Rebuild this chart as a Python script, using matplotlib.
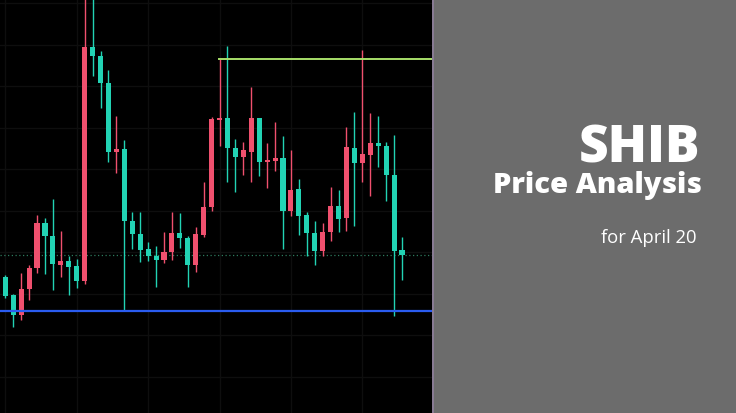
import matplotlib
matplotlib.use("Agg")
import matplotlib.pyplot as plt
from matplotlib.patches import Rectangle
import numpy as np

# OHLC values (arbitrary price units)
opens  = [136.3, 118, 98, 124, 145, 190, 177, 148, 152, 147, 132, 366, 357, 330, 261, 264, 192, 179, 164, 157,
          153, 161, 180, 175, 148, 178, 206, 293, 295, 265, 256, 261, 295, 251, 252, 255, 202, 224, 198, 180,
          162, 181, 207, 195, 265, 250, 258, 270, 267, 238, 163]
highs  = [138, 119, 140, 148, 198, 195, 214, 182, 157, 154, 424, 424, 362, 343, 297, 273, 201, 201, 171, 167,
          181, 201, 200, 177, 186, 231, 296, 354, 367, 274, 271, 326, 295, 270, 291, 277, 263, 234, 201, 192,
          190, 226, 223, 286, 301, 363, 300, 297, 271, 278, 176]
lows   = [115, 86, 93, 113, 140, 139, 123, 136, 118, 125, 129, 337, 305, 251, 240, 102, 164, 151, 152, 126,
          150, 153, 165, 126, 141, 176, 202, 267, 231, 221, 238, 231, 237, 225, 242, 164, 197, 178, 157, 148,
          157, 172, 181, 182, 187, 231, 217, 246, 212, 97, 133]
closes = [117.3, 98, 124, 145, 190, 177, 149, 152, 146, 132, 366.3, 357, 330, 261, 264, 192, 179, 163, 157, 153,
          161, 180, 175, 148, 179, 206, 294, 295, 265, 256, 263, 295, 251, 253, 255, 202, 223, 197, 180, 162,
          181, 207, 194, 266, 250, 259, 270, 267, 238, 162, 158]

resistance = 354
support = 102
current = 158.5
resistance_start = 27

title = "SHIB"
subtitle = "Price Analysis"
date_text = "for April 20"

W, H = 736, 414
fig = plt.figure(figsize=(W / 100, H / 100), dpi=100)
fig.patch.set_facecolor("#6c6c6c")

ax = fig.add_axes([0, 0, 432 / W, 1])
ax.set_facecolor("#000000")
for s in ax.spines.values():
    s.set_visible(False)
ax.set_xticks([])
ax.set_yticks([])

step = 7.934
x0 = 5.3
ax.set_xlim(-x0 / step, (432 - x0) / step)
ax.set_ylim(0, 414)

# faint grid
for gx in range(0, 54, 9):
    ax.axvline(gx, color="#0e0e0e", lw=1, zorder=0)
for gy in np.arange(410, 0, -41.5):
    ax.axhline(gy, color="#0e0e0e", lw=1, zorder=0)

up_col = "#f0506e"
down_col = "#22d3b4"
bw = 0.64
for i, (o, h, l, c) in enumerate(zip(opens, highs, lows, closes)):
    col = up_col if c >= o else down_col
    ax.plot([i, i], [l, h], color=col, lw=1, solid_capstyle="butt", zorder=2)
    lo, hi = min(o, c), max(o, c)
    ax.add_patch(Rectangle((i - bw / 2, lo), bw, max(hi - lo, 1.5), facecolor=col,
                           edgecolor="none", zorder=3))

ax.axhline(support, color="#2a5cf0", lw=1.6, zorder=4)
ax.axhline(current, color="#2e7a5e", lw=0.9, ls=(0, (1, 2)), zorder=1)
ax.plot([resistance_start - 0.08, ax.get_xlim()[1]], [resistance, resistance],
        color="#a8e06a", lw=1.4, zorder=4)

# divider
fig.add_artist(plt.Line2D([432.5 / W, 432.5 / W], [0, 1], color="#8e7f9c", lw=1.2))

fig.text(700 / W, (H - 163) / H, title, ha="right", va="baseline", color="white",
         fontsize=37, fontweight="heavy", family="Open Sans")
fig.text(702 / W, (H - 193) / H, subtitle, ha="right", va="baseline", color="white",
         fontsize=21, fontweight="heavy", family="Open Sans")
fig.text(697 / W, (H - 242.7) / H, date_text, ha="right", va="baseline", color="white",
         fontsize=13.3, family="Open Sans")

fig.savefig("out.png", dpi=100, facecolor=fig.get_facecolor())
